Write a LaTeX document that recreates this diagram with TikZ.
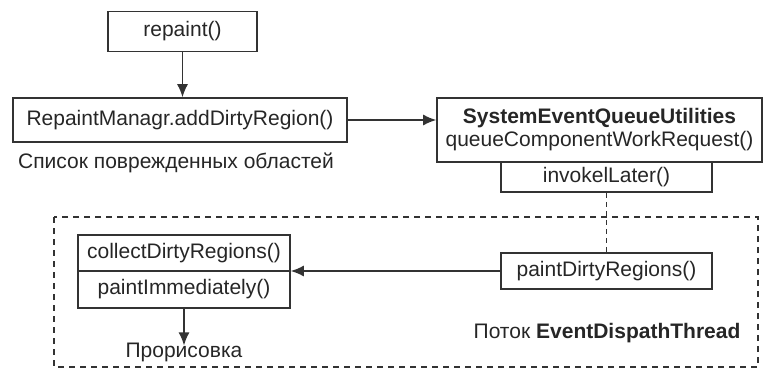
\documentclass[tikz,border=0pt]{standalone}
\usepackage{fontspec}
\setmainfont{Liberation Sans}
\usetikzlibrary{arrows.meta}
\definecolor{ink}{HTML}{333333}
\definecolor{txt}{HTML}{262626}
\begin{document}
\begin{tikzpicture}[x=1pt,y=-1pt,
  font=\fontsize{21}{23}\selectfont, text=txt,
  box/.style={draw=ink, line width=1.6pt, inner sep=0pt, align=center},
  lbl/.style={inner sep=0pt, align=center},
  arr/.style={draw=ink, line width=1.4pt, -{Latex[length=13pt,width=11pt]}},
  frame/.style={draw=ink, line width=1.6pt, dash pattern=on 6pt off 5pt}]
\useasboundingbox (0,0) rectangle (763,368);
% call chain above the event thread
\node[box, minimum width=149pt, minimum height=40pt] (repaint) at (182.5,31.5) {repaint()};
\node[box, minimum width=334pt, minimum height=44pt] (rm) at (180,120) {RepaintManagr.addDirtyRegion()};
\node[lbl] (list) at (176,163) {Список поврежденных областей};
\node[box, minimum width=325pt, minimum height=64pt] (seq) at (599.5,130)
  {\textbf{SystemEventQueueUtilities}\\queueComponentWorkRequest()};
\node[box, minimum width=211pt, minimum height=30pt] (inv) at (606.5,177) {invokelLater()};
% event dispatch thread frame
\draw[frame] (54,217) rectangle (758,367);
\node[box, minimum width=211pt, minimum height=36pt] (pdr) at (606.5,271) {paintDirtyRegions()};
\node[box, minimum width=212pt, minimum height=36pt] (collect) at (184,253) {collectDirtyRegions()};
\node[box, minimum width=212pt, minimum height=37pt] (imm) at (184,289.5) {paintImmediately()};
\node[lbl] (draw) at (184,352) {Прорисовка};
\node[lbl] (thread) at (607,333) {Поток \textbf{EventDispathThread}};
% connectors
\draw[arr] (repaint.south) -- (repaint.south |- rm.north);
\draw[arr] (rm.east) -- (rm.east -| seq.west);
\draw[draw=ink, line width=1.4pt, dash pattern=on 5pt off 4pt] (inv.south) -- (pdr.north);
\draw[arr] (pdr.west) -- (pdr.west -| collect.east);
\draw[arr] (imm.south) -- ([yshift=-3pt]draw.north);
\end{tikzpicture}
\end{document}
